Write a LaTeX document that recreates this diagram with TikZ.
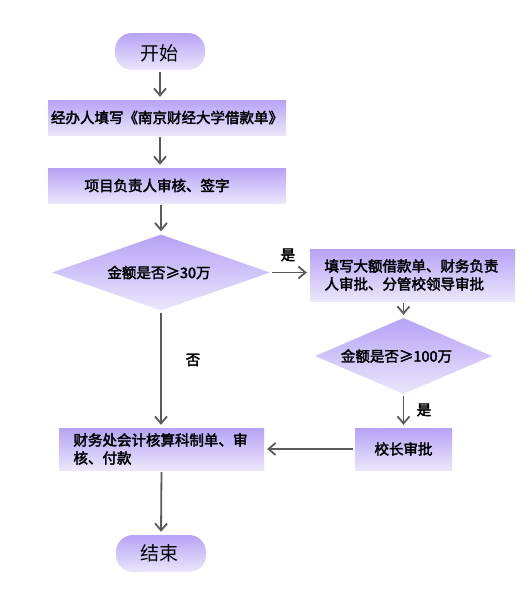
\documentclass[tikz,border=0pt]{standalone}
\usepackage{fontspec}
\newfontfamily\cjk[FakeBold=2.5]{Noto Sans CJK SC}
\newfontfamily\cjkplain{Noto Sans CJK SC}
\usetikzlibrary{arrows.meta,shapes.geometric}
\definecolor{boxtop}{RGB}{182,162,246}
\definecolor{boxbot}{RGB}{236,230,252}
\definecolor{arrowgray}{RGB}{90,90,90}
\tikzset{
  box/.style={rectangle,top color=boxtop,bottom color=boxbot,inner sep=0pt,font=\cjk\fontsize{14.5}{18}\selectfont},
  term/.style={box,rounded corners=17pt,minimum width=90pt,minimum height=37pt},
  decide/.style={box,diamond,inner sep=0pt},
  flow/.style={-{Straight Barb[length=7pt,width=12pt,line width=1.8pt]},arrowgray,line width=1.8pt,shorten <=2pt,shorten >=3pt},
  lbl/.style={font=\cjk\fontsize{14.5}{16}\selectfont}
}
\begin{document}
\begin{tikzpicture}[x=1pt,y=-1pt]
              \useasboundingbox (0,0) rectangle (532,589);
              \node[term](start)at(160,51.5){};
              \node[font=\cjkplain\fontsize{19}{22}\selectfont]at(159,53){开始};
              \node[box,minimum width=238pt,minimum height=35pt](fill)at(167,117.5){经办人填写《南京财经大学借款单》};
              \node[box,minimum width=238pt,minimum height=35pt](sign)at(167,185.5){\hspace*{-20pt}项目负责人审核、签字};
              \node[decide,aspect=2.87,minimum width=218pt,minimum height=76pt](big)at(161,272.5){\hspace*{-4pt}金额是否≥30万};
              \node[box,minimum width=205pt,minimum height=52pt,align=left,text width=176pt](large)at(412.5,275){填写大额借款单、财务负责\\人审批、分管校领导审批};
              \node[decide,aspect=2.33,minimum width=177pt,minimum height=76pt](huge)at(403.5,356){\hspace*{-14pt}金额是否≥100万};
              \node[box,minimum width=97pt,minimum height=42pt](head)at(403.5,449){校长审批};
              \node[box,minimum width=205pt,minimum height=42pt,align=left,text width=176pt](pay)at(161.5,449){财务处会计核算科制单、审\\核、付款};
              \node[term](stop)at(161,553.5){};
              \node[font=\cjkplain\fontsize{19}{22}\selectfont]at(159,553){结束};
              \draw[flow](start.south)--(start.south|-fill.north);
              \draw[flow](start.south|-fill.south)--(start.south|-sign.north);
              \draw[flow](big.north|-sign.south)--(big.north);
              \draw[flow](big.east)--(big.east-|large.west);
              \draw[flow](huge.north|-large.south)--(huge.north);
              \draw[flow](huge.south)--(head.north);
              \draw[flow](big.south)--(big.south|-pay.north);
              \draw[flow](head.west)--(pay.east);
              \draw[flow](pay.south)--(stop.north);
              \node[lbl](yesa)at(288,255){是};
              \node[lbl](no)at(193,360){否};
              \node[lbl](yesb)at(424,410){是};
            \end{tikzpicture}
\end{document}
